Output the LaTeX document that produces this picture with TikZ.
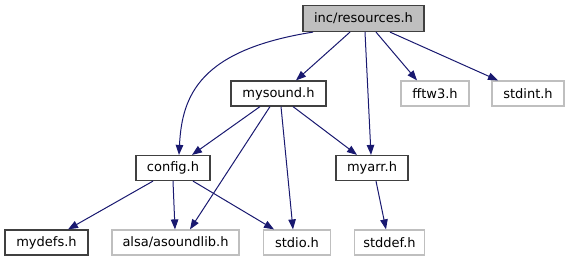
\documentclass[tikz,border=0pt]{standalone}
\usepackage{fontspec}
\setmainfont{DejaVu Sans}
\usetikzlibrary{arrows.meta}
\definecolor{edgeblue}{HTML}{191970}
\definecolor{boxgray}{HTML}{BFBFBF}
\definecolor{boxdark}{HTML}{404040}
\begin{document}
\begin{tikzpicture}[x=1pt,y=-1pt,
  box/.style={draw=boxdark,line width=1.2pt,fill=white,rectangle,inner sep=0pt,minimum height=25pt,font=\fontsize{13}{15}\selectfont},
  extbox/.style={box,draw=boxgray},
  rootbox/.style={box,fill=boxgray,minimum height=26pt},
  edge/.style={draw=edgeblue,line width=1pt,-{Triangle[length=10pt,width=7.5pt]}}]
\useasboundingbox (0,0) rectangle (569,261);
\node[rootbox,minimum width=121pt] (res) at (363.5,18.5) {inc/resources.h};
\node[box,minimum width=95pt] (mysound) at (278.5,93.5) {mysound.h};
\node[extbox,minimum width=68pt] (fftw) at (435,93.5) {fftw3.h};
\node[extbox,minimum width=72pt] (stdint) at (528,93.5) {stdint.h};
\node[box,minimum width=74pt] (config) at (173,168) {config.h};
\node[box,minimum width=72pt] (myarr) at (372,168) {myarr.h};
\node[box,minimum width=83pt] (mydefs) at (46.5,242.5) {mydefs.h};
\node[extbox,minimum width=127pt] (alsa) at (175.5,242.5) {alsa/asoundlib.h};
\node[extbox,minimum width=67pt] (stdio) at (297,242.5) {stdio.h};
\node[extbox,minimum width=70pt] (stddef) at (389.5,242.5) {stddef.h};
\draw[edge] ([xshift=-50.5pt]res.south) .. controls (200,50) and (182,95) .. ([xshift=6pt]config.north);
\draw[edge] ([xshift=-13.5pt]res.south) -- ([xshift=17.5pt]mysound.north);
\draw[edge] ([xshift=1.5pt]res.south) -- ([xshift=-1pt]myarr.north);
\draw[edge] ([xshift=12.5pt]res.south) -- ([xshift=-18pt]fftw.north);
\draw[edge] ([xshift=26.5pt]res.south) -- ([xshift=-30pt]stdint.north);
\draw[edge] ([xshift=-18.5pt]mysound.south) -- ([xshift=19pt]config.north);
\draw[edge] ([xshift=-8.5pt]mysound.south) -- ([xshift=14.5pt]alsa.north);
\draw[edge] ([xshift=2.5pt]mysound.south) -- ([xshift=-4pt]stdio.north);
\draw[edge] ([xshift=14.5pt]mysound.south) -- ([xshift=-15pt]myarr.north);
\draw[edge] ([xshift=-20pt]config.south) -- ([xshift=21.5pt]mydefs.north);
\draw[edge] (config.south) -- ([xshift=-0.5pt]alsa.north);
\draw[edge] ([xshift=20pt]config.south) -- ([xshift=-23pt]stdio.north);
\draw[edge] ([xshift=4pt]myarr.south) -- ([xshift=-3.5pt]stddef.north);
\end{tikzpicture}
\end{document}
